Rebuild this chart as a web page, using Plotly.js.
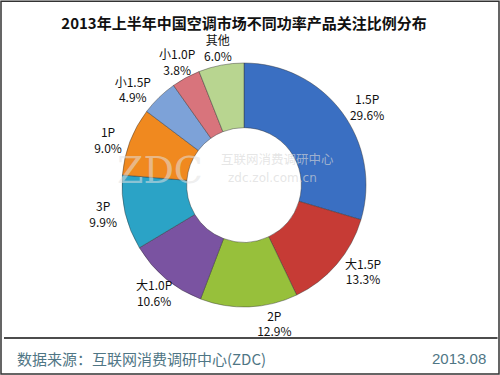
<!DOCTYPE html>
<html><head><meta charset="utf-8">
<script src="https://cdn.plot.ly/plotly-3.0.1.min.js"></script>
<style>html,body{margin:0;padding:0;background:#fff}#chart{width:500px;height:375px}</style>
</head><body><div id="chart"></div>
<script>
const categories = ["1.5P","大1.5P","2P","大1.0P","3P","1P","小1.5P","小1.0P","其他"];
const shares = [29.6, 13.3, 12.9, 10.6, 9.9, 9.0, 4.9, 3.8, 6.0];
const sliceColors = ["#3a6fc2","#c63b35","#97c03b","#7a53a1","#2ba3c6","#f0891f","#7da2d8","#d8747c","#b8d590"];
const titleText = "2013年上半年中国空调市场不同功率产品关注比例分布";
const sourceText = "数据来源：互联网消费调研中心(ZDC)";
const dateText = "2013.08";

// label placement style: true = Plotly outside label, false = label placed at slice mid-angle
const usePlotlyLabel = [true, true, true, false, true, true, true, false, false];

const W = 500, H = 375;
const cx = 244, cy = 185, R = 122;     // pie centre / radius in px (layout)
const labelDist = 140;                 // px from centre for mid-angle labels
const labelFont = {family: "Noto Sans CJK SC, DejaVu Sans, sans-serif", size: 12, color: "#111"};

const total = shares.reduce((a, b) => a + b, 0);
let cum = 0;
const midAnnots = [];
shares.forEach((v, i) => {
  const mid = (cum + v / 2) / total;
  cum += v;
  if (usePlotlyLabel[i]) return;
  const th = 2 * Math.PI * mid;
  const px = cx + labelDist * Math.sin(th);
  const py = cy - labelDist * Math.cos(th);
  midAnnots.push({
    text: categories[i] + "<br>" + v.toFixed(1) + "%",
    xref: "paper", yref: "paper", x: px / W, y: 1 - py / H,
    xanchor: "center", yanchor: "middle", showarrow: false, font: labelFont
  });
});

const data = [{
  type: "pie",
  labels: categories,
  values: shares,
  sort: false,
  direction: "clockwise",
  rotation: 0,
  hole: 0.47,
  marker: {colors: sliceColors, line: {color: "rgba(50,50,50,0.55)", width: 0.8}},
  texttemplate: "%{label}<br>%{value:.1f}%",
  textposition: usePlotlyLabel.map(u => u ? "outside" : "none"),
  textfont: labelFont,
  hoverinfo: "label+value",
  domain: {x: [(cx - R) / W, (cx + R) / W], y: [1 - (cy + R) / H, 1 - (cy - R) / H]},
  automargin: false,
  showlegend: false
}];

const layout = {
  width: W, height: H,
  margin: {l: 0, r: 0, t: 0, b: 0},
  paper_bgcolor: "#fff",
  title: {text: "<b>" + titleText + "</b>", x: 0.488, y: 0.938, xanchor: "center", yanchor: "middle",
          font: {family: "Noto Sans CJK SC, sans-serif", size: 15, color: "#111"}},
  shapes: [
    {type: "rect", xref: "paper", yref: "paper", x0: 0.002, x1: 0.998, y0: 0.003, y1: 0.997,
     line: {color: "#333", width: 1.5}},
    {type: "line", xref: "paper", yref: "paper", x0: 0.008, x1: 0.995, y0: 1 - 338/375, y1: 1 - 338/375,
     line: {color: "#111", width: 1.5}}
  ],
  annotations: [
    {text: sourceText, xref: "paper", yref: "paper", x: 15/500, y: 1 - 358/375, xanchor: "left", yanchor: "middle",
     showarrow: false, font: {family: "Noto Sans CJK SC, sans-serif", size: 15, color: "#4f7685"}},
    {text: dateText, xref: "paper", yref: "paper", x: 488/500, y: 1 - 358/375, xanchor: "right", yanchor: "middle",
     showarrow: false, font: {family: "Liberation Sans, sans-serif", size: 15, color: "#4f7685"}},
    {text: "ZDC", xref: "paper", yref: "paper", x: 160/500, y: 1 - 170/375, xanchor: "center", yanchor: "middle",
     showarrow: false, font: {family: "DejaVu Serif, serif", size: 38, color: "rgba(225,225,225,0.55)"}},
    {text: "互联网消费调研中心", xref: "paper", yref: "paper", x: 277/500, y: 1 - 159/375, xanchor: "center", yanchor: "middle",
     showarrow: false, font: {family: "Noto Sans CJK SC, sans-serif", size: 12.5, color: "rgba(215,215,215,0.65)"}},
    {text: "zdc.zol.com.cn", xref: "paper", yref: "paper", x: 272/500, y: 1 - 178/375, xanchor: "center", yanchor: "middle",
     showarrow: false, font: {family: "DejaVu Sans, sans-serif", size: 12, color: "rgba(215,215,215,0.65)"}}
  ].concat(midAnnots)
};
Plotly.newPlot("chart", data, layout, {displayModeBar: false, staticPlot: true});
</script></body></html>
